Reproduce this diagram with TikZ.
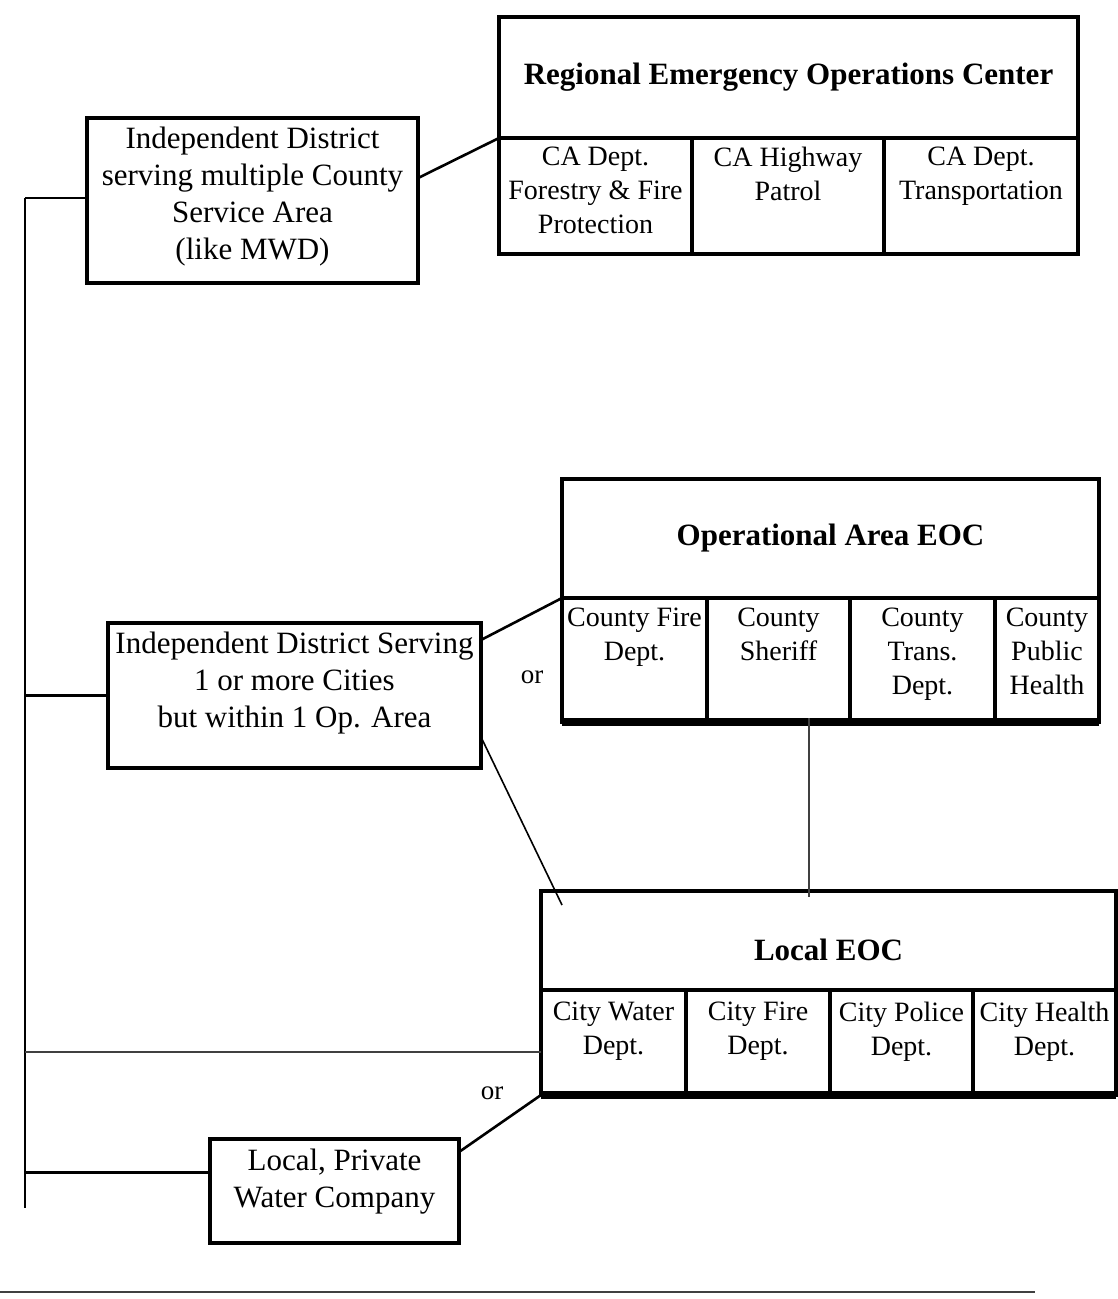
\documentclass[tikz,border=0pt]{standalone}
\usepackage{fontspec}
\setmainfont{Liberation Serif}
\usetikzlibrary{calc}
\begin{document}
\begin{tikzpicture}[x=1pt,y=-1pt,
  box/.style={draw, line width=3.5pt, inner sep=0pt, outer sep=0pt, anchor=north west},
  boxtxt/.style={anchor=north, inner sep=0pt, align=center, font=\fontsize{31}{37}\selectfont},
  celltxt/.style={anchor=north, inner sep=0pt, align=center, font=\fontsize{28}{34}\selectfont},
  headtxt/.style={inner sep=0pt, font=\fontsize{31}{37}\selectfont\bfseries},
  orlbl/.style={inner sep=0pt, font=\fontsize{27}{32}\selectfont},
  link/.style={line width=2.6pt},
  thinlink/.style={line width=1.6pt},
  faint/.style={line width=1.4pt, black!75},
  heavy/.style={line width=8pt},
]
\useasboundingbox (0,0) rectangle (1118,1299);

% ---------- Regional EOC ----------
\node[box, minimum width=579pt, minimum height=121pt] (reoc) at (499,17) {};
\node[headtxt] (reoct) at (reoc.center) {Regional Emergency Operations Center};
\node[box, minimum width=193pt, minimum height=116pt] (r1) at (499,138) {};
\node[box, minimum width=192pt, minimum height=116pt] (r2) at (692,138) {};
\node[box, minimum width=194pt, minimum height=116pt] (r3) at (884,138) {};
\node[celltxt] (r1t) at ($(r1.north)+(0,9)$) {CA Dept.\\Forestry \& Fire\\Protection};
\node[celltxt] (r2t) at ($(r2.north)+(0,9)$) {CA Highway\\Patrol};
\node[celltxt] (r3t) at ($(r3.north)+(0,9)$) {CA Dept.\\Transportation};

% ---------- Operational Area EOC ----------
\node[box, minimum width=537pt, minimum height=119pt] (oa) at (562,479) {};
\node[headtxt] (oat) at (oa.center) {Operational Area EOC};
\node[box, minimum width=145pt, minimum height=124pt] (o1) at (562,598) {};
\node[box, minimum width=143pt, minimum height=124pt] (o2) at (707,598) {};
\node[box, minimum width=145pt, minimum height=124pt] (o3) at (850,598) {};
\node[box, minimum width=104pt, minimum height=124pt] (o4) at (995,598) {};
\draw[heavy] (o1.south west) -- (o4.south east);
\node[celltxt] (o1t) at ($(o1.north)+(0,10)$) {County Fire\\Dept.};
\node[celltxt] (o2t) at ($(o2.north)+(0,10)$) {County\\Sheriff};
\node[celltxt] (o3t) at ($(o3.north)+(0,10)$) {County\\Trans.\\Dept.};
\node[celltxt] (o4t) at ($(o4.north)+(0,10)$) {County\\Public\\Health};

% ---------- Local EOC ----------
\node[box, minimum width=575pt, minimum height=99pt] (loc) at (541,891) {};
\node[headtxt] (loct) at ($(loc.center)+(0,9)$) {Local EOC};
\node[box, minimum width=145pt, minimum height=105pt] (l1) at (541,990) {};
\node[box, minimum width=144pt, minimum height=105pt] (l2) at (686,990) {};
\node[box, minimum width=143pt, minimum height=105pt] (l3) at (830,990) {};
\node[box, minimum width=143pt, minimum height=105pt] (l4) at (973,990) {};
\draw[heavy] (l1.south west) -- (l4.south east);
\node[celltxt] (l1t) at ($(l1.north)+(0,12)$) {City Water\\Dept.};
\node[celltxt] (l2t) at ($(l2.north)+(0,12)$) {City Fire\\Dept.};
\node[celltxt] (l3t) at ($(l3.north)+(0,12)$) {City Police\\Dept.};
\node[celltxt] (l4t) at ($(l4.north)+(0,12)$) {City Health\\Dept.};

% ---------- Independent districts ----------
\node[box, minimum width=331pt, minimum height=165pt] (ida) at (87,118) {};
\node[boxtxt] (idat) at ($(ida.north)+(0,9)$) {Independent District\\serving multiple County\\Service Area\\(like MWD)};
\node[box, minimum width=373pt, minimum height=145pt] (idb) at (108,623) {};
\node[boxtxt] (idbt) at ($(idb.north)+(0,9)$) {Independent District Serving\\1 or more Cities\\but within 1 Op. Area};
\node[box, minimum width=249pt, minimum height=104pt] (pw) at (210,1139) {};
\node[boxtxt] (pwt) at ($(pw.north)+(0,10)$) {Local, Private\\Water Company};

% ---------- "or" labels ----------
\node[orlbl] (or1) at (532,677) {or};
\node[orlbl] (or2) at (492,1093) {or};

% ---------- spine ----------
\coordinate (sptop) at (25,198);
\coordinate (spbot) at (25,1208);
\draw[link] (sptop) -- (spbot);
\draw[link] (sptop) -- (sptop -| ida.west);
\draw[link] (idb.west) -- (idb.west -| sptop);
\coordinate (pwin) at ($(pw.north west)!0.32!(pw.south west)$);
\draw[link] (pwin) -- (pwin -| sptop);
\coordinate (l1in) at ($(l1.north west)!0.59!(l1.south west)$);
\draw[faint] (l1in) -- (l1in -| sptop);

% ---------- connectors ----------
\draw[link] ($(ida.north east)!0.364!(ida.south east)$) -- (reoc.south west);
\draw[link] ($(idb.north east)!0.117!(idb.south east)$) -- (oa.south west);
\draw[thinlink] ($(idb.north east)!0.786!(idb.south east)$) -- ($(loc.north west)+(21,14)$);
\draw[link] ($(pw.north east)!0.125!(pw.south east)$) -- (l1.south west);
\coordinate (vtop) at (809,718);
\draw[faint] (vtop) -- ($(vtop |- loc.north)+(0,6)$);

% ---------- bottom rule ----------
\coordinate (rulea) at (0,1292);
\coordinate (ruleb) at (1035,1292);
\draw[faint] (rulea) -- (ruleb);
\end{tikzpicture}
\end{document}
